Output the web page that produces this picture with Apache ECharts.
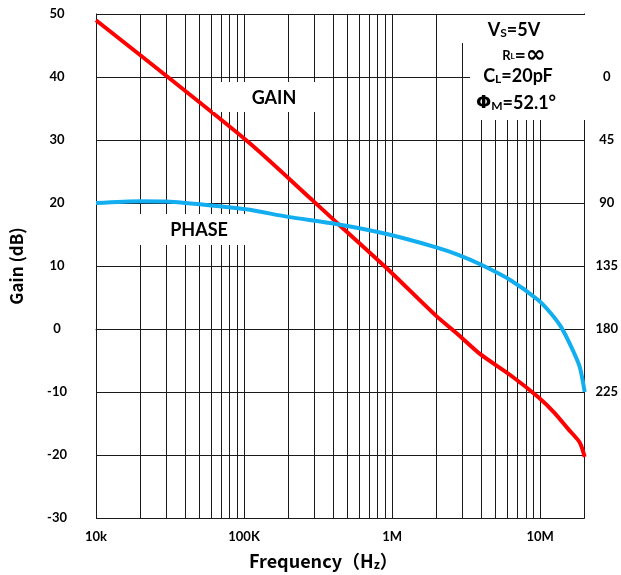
<!DOCTYPE html>
<html>
<head>
<meta charset="utf-8">
<script src="https://cdn.jsdelivr.net/npm/echarts@6/dist/echarts.min.js"></script>
<style>
html,body{margin:0;padding:0;background:#fff;}
#chart{width:621px;height:575px;}
</style>
</head>
<body>
<div id="chart"></div>
<script>
// ---- data ----
const xTickValues = [10000, 100000, 1000000, 10000000];
const xTickLabels = ['10k', '100K', '1M', '10M'];
const minorMultipliers = [2, 3, 4, 5, 6, 7, 8, 9];
const xMin = 10000;
const xMax = 20000000;

const gainTicks = [-30, -20, -10, 0, 10, 20, 30, 40, 50];
const phaseTicks = [0, 45, 90, 135, 180, 225];

const gainFreq = [10000, 103000, 288000, 418000, 906000, 1960000, 2800000, 3940000, 6280000, 9690000, 12500000, 15500000, 18500000, 20000000];
const gainDb   = [49, 30.0, 20.5, 17.0, 9.8, 2.2, -0.9, -4.0, -7.3, -10.8, -13.3, -15.9, -18.0, -20.3];

const phaseFreq = [10000, 19800, 30000, 55700, 103000, 199000, 418000, 906000, 1960000, 2800000, 3940000, 6280000, 9690000, 11800000, 13800000, 16200000, 18500000, 20000000];
const phaseDeg  = [90, 88.7, 89, 91.4, 94.5, 99.9, 105, 112, 121.5, 127, 133.8, 145, 159.3, 168.7, 178.3, 192.6, 207, 225];

// ---- build ----
const minorLines = [];
xTickValues.forEach(d => {
  minorMultipliers.forEach(m => {
    const v = d * m;
    if (v < xMax) minorLines.push({ xAxis: v });
  });
});

const labelFont = 'Lato, "DejaVu Sans", sans-serif';
const cjkFont = '"Noto Sans CJK SC", sans-serif';
const gridColor = '#1a1a1a';

const chart = echarts.init(document.getElementById('chart'));
chart.setOption({
  animation: false,
  backgroundColor: '#fff',
  grid: { left: 96, right: 34, top: 14, bottom: 56, containLabel: false },
  xAxis: {
    type: 'log', logBase: 10, min: xMin, max: xMax,
    axisLine: { show: true, lineStyle: { color: gridColor, width: 1 } },
    axisTick: { show: false },
    splitLine: { show: true, lineStyle: { color: gridColor, width: 1 } },
    axisLabel: {
      margin: 12, color: '#000', fontFamily: labelFont, fontWeight: 'bold', fontSize: 13,
      formatter: v => {
        for (let i = 0; i < xTickValues.length; i++) {
          if (Math.abs(Math.log10(v) - Math.log10(xTickValues[i])) < 1e-6) return xTickLabels[i];
        }
        return '';
      }
    },
    name: 'Frequency（H{s|z}）',
    nameLocation: 'middle',
    nameGap: 34,
    nameTextStyle: {
      color: '#000', fontFamily: cjkFont, fontWeight: 'bold', fontSize: 18,
      padding: [0, 34, 0, 0],
      rich: { s: { fontSize: 12, fontFamily: cjkFont, fontWeight: 'bold', color: '#000', verticalAlign: 'bottom', padding: [6, 0, 0, 0] } }
    }
  },
  yAxis: [
    {
      type: 'value', min: -30, max: 50, interval: 10, position: 'left',
      axisLine: { show: true, lineStyle: { color: gridColor, width: 1 } },
      axisTick: { show: false },
      splitLine: { show: true, lineStyle: { color: gridColor, width: 1 } },
      axisLabel: {
        margin: 39, align: 'center', color: '#000', fontFamily: labelFont, fontWeight: 'bold', fontSize: 13,
        formatter: v => gainTicks.includes(v) ? String(v) : ''
      },
      name: 'Gain (dB)',
      nameLocation: 'middle',
      nameRotate: 90,
      nameGap: 71,
      nameTextStyle: { color: '#000', fontFamily: cjkFont, fontWeight: 'bold', fontSize: 17 }
    },
    {
      type: 'value', min: -45, max: 315, interval: 45, position: 'right', inverse: true,
      axisLine: { show: true, lineStyle: { color: gridColor, width: 1 } },
      axisTick: { show: false },
      splitLine: { show: false },
      axisLabel: {
        margin: 22, align: 'center', color: '#000', fontFamily: labelFont, fontWeight: 'bold', fontSize: 13,
        formatter: v => phaseTicks.includes(v) ? String(v) : ''
      }
    }
  ],
  series: [
    {
      name: 'GAIN', type: 'line', yAxisIndex: 0, z: 3,
      data: gainFreq.map((f, i) => [f, gainDb[i]]),
      smooth: 0.25, symbol: 'none',
      lineStyle: { color: '#ff0000', width: 4 },
      markLine: {
        z: 1, silent: true, symbol: 'none', animation: false,
        label: { show: false },
        lineStyle: { color: gridColor, width: 1, type: 'solid' },
        emphasis: { disabled: true },
        data: minorLines
      }
    },
    {
      name: 'PHASE', type: 'line', yAxisIndex: 1, z: 3,
      data: phaseFreq.map((f, i) => [f, phaseDeg[i]]),
      smooth: 0.25, symbol: 'none',
      lineStyle: { color: '#12aef0', width: 4 }
    }
  ],
  graphic: [
    { type: 'rect', z: 10, shape: { x: 213, y: 82, width: 117, height: 30 }, style: { fill: '#fff' }, silent: true },
    { type: 'rect', z: 10, shape: { x: 138, y: 214, width: 120, height: 31 }, style: { fill: '#fff' }, silent: true },
    { type: 'rect', z: 10, shape: { x: 459, y: 15, width: 127.5, height: 28 }, style: { fill: '#fff' }, silent: true },
    { type: 'rect', z: 10, shape: { x: 470, y: 42, width: 116.5, height: 78 }, style: { fill: '#fff' }, silent: true },
    { type: 'text', z: 11, x: 274, y: 98, style: { text: 'GAIN', fill: '#000', font: 'bold 18px ' + labelFont, align: 'center', verticalAlign: 'middle' } },
    { type: 'text', z: 11, x: 199, y: 230, style: { text: 'PHASE', fill: '#000', font: 'bold 18px ' + labelFont, align: 'center', verticalAlign: 'middle' } },
    { type: 'text', z: 11, x: 514, y: 30, style: {
        text: '{a|V}{s|S}{a|=5V}', align: 'center', verticalAlign: 'middle',
        rich: { a: { fontFamily: labelFont, fontWeight: 'bold', fontSize: 18, color: '#000' },
                s: { fontFamily: labelFont, fontWeight: 'bold', fontSize: 12, color: '#000', verticalAlign: 'bottom', padding: [5, 0, 0, 0] } } } },
    { type: 'text', z: 11, x: 524, y: 56, style: {
        text: '{r|R}{s|L}{e|=}{i|∞}', align: 'center', verticalAlign: 'middle',
        rich: { r: { fontFamily: labelFont, fontWeight: 'bold', fontSize: 13, color: '#000' },
                s: { fontFamily: labelFont, fontWeight: 'bold', fontSize: 8, color: '#000' },
                e: { fontFamily: labelFont, fontWeight: 'bold', fontSize: 19, color: '#000' },
                i: { fontFamily: '"DejaVu Sans", sans-serif', fontWeight: 'bold', fontSize: 24, color: '#000' } } } },
    { type: 'text', z: 11, x: 518, y: 76, style: {
        text: '{a|C}{s|L}{a|=20pF}', align: 'center', verticalAlign: 'middle',
        rich: { a: { fontFamily: labelFont, fontWeight: 'bold', fontSize: 18, color: '#000' },
                s: { fontFamily: labelFont, fontWeight: 'bold', fontSize: 12, color: '#000', verticalAlign: 'bottom', padding: [5, 0, 0, 0] } } } },
    { type: 'text', z: 11, x: 516, y: 103, style: {
        text: '{p|Φ}{s|M}{a|=52.1°}', align: 'center', verticalAlign: 'middle',
        rich: { p: { fontFamily: '"DejaVu Sans", sans-serif', fontWeight: 'bold', fontSize: 18, color: '#000' },
                a: { fontFamily: labelFont, fontWeight: 'bold', fontSize: 18, color: '#000' },
                s: { fontFamily: labelFont, fontWeight: 'bold', fontSize: 12, color: '#000', verticalAlign: 'bottom', padding: [5, 0, 0, 0] } } } }
  ]
});
</script>
</body>
</html>
